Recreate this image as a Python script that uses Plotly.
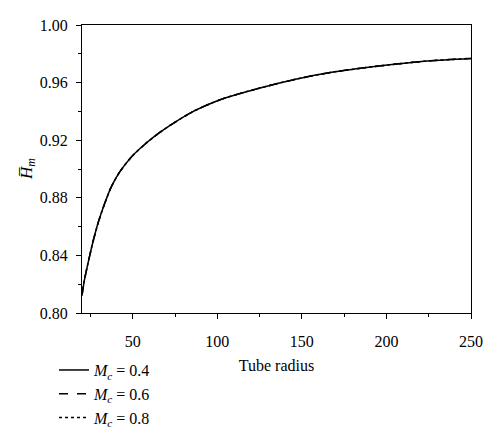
import plotly.graph_objects as go

# Tube radius (x) and mean H for three Mc values (the three curves coincide in the figure)
tube_radius = [20, 21.4, 23.5, 26.5, 29.5, 33.4, 37.3, 42.3, 49.2, 57, 65, 73, 85, 95, 105,
               117, 127, 147, 165, 187, 206, 226, 250]
hm_mc04 = [0.8123, 0.8227, 0.8343, 0.8495, 0.8625, 0.8760, 0.8876, 0.8980, 0.9084, 0.9170,
           0.9245, 0.9310, 0.9395, 0.9450, 0.9495, 0.9536, 0.9568, 0.9625, 0.9667, 0.9703,
           0.9729, 0.9752, 0.9768]
hm_mc06 = list(hm_mc04)
hm_mc08 = list(hm_mc04)

series = [
    ("<i>M<sub>c</sub></i> = 0.4", hm_mc04, "solid"),
    ("<i>M<sub>c</sub></i> = 0.6", hm_mc06, "dash"),
    ("<i>M<sub>c</sub></i> = 0.8", hm_mc08, "dot"),
]

FONT = "Liberation Serif"

fig = go.Figure()
for name, values, dash in series:
    fig.add_trace(go.Scatter(
        x=tube_radius, y=values, mode="lines", name=name,
        line=dict(color="black", width=1.5, dash=dash, shape="spline", smoothing=0.6),
    ))

# y title as an annotation, so the fixed margins are not disturbed
fig.add_annotation(
    text="<i>H\u0305</i><sub><i>m</i></sub>", xref="paper", yref="paper",
    x=-0.139, y=0.5, xanchor="center", yanchor="middle",
    textangle=-90, showarrow=False, font=dict(family=FONT, size=17),
)

fig.update_layout(
    width=500, height=443,
    margin=dict(l=82, r=29, t=25, b=130, autoexpand=False),
    plot_bgcolor="white", paper_bgcolor="white",
    font=dict(family=FONT, size=16, color="black"),
    showlegend=True,
    legend=dict(
        xref="container", yref="container",
        x=0.108, y=0.203, xanchor="left", yanchor="top",
        orientation="v", bgcolor="rgba(0,0,0,0)",
        font=dict(family=FONT, size=16), tracegroupgap=0,
    ),
    xaxis=dict(
        range=[20, 250], tickvals=[50, 100, 150, 200, 250],
        ticks="outside", ticklen=5, tickwidth=1, tickcolor="black",
        ticklabelstandoff=9,
        minor=dict(tickvals=[25, 75, 125, 175, 225], ticks="outside", ticklen=3, tickcolor="black"),
        showline=True, linecolor="black", linewidth=1, mirror=True,
        showgrid=False, zeroline=False,
        title=dict(text="Tube radius", standoff=10, font=dict(family=FONT, size=16)),
    ),
    yaxis=dict(
        range=[0.80, 1.00], tickvals=[0.80, 0.84, 0.88, 0.92, 0.96, 1.00],
        tickformat=".2f",
        ticks="outside", ticklen=5, tickwidth=1, tickcolor="black",
        ticklabelstandoff=5,
        minor=dict(tickvals=[0.82, 0.86, 0.90, 0.94, 0.98], ticks="outside", ticklen=3, tickcolor="black"),
        showline=True, linecolor="black", linewidth=1, mirror=True,
        showgrid=False, zeroline=False,
    ),
)

# drop the browser's default body margin so the figure sits at the page corner
fig.write_html(
    "out.html",
    config={"displayModeBar": False},
    post_script="document.body.style.margin='0px';",
)
